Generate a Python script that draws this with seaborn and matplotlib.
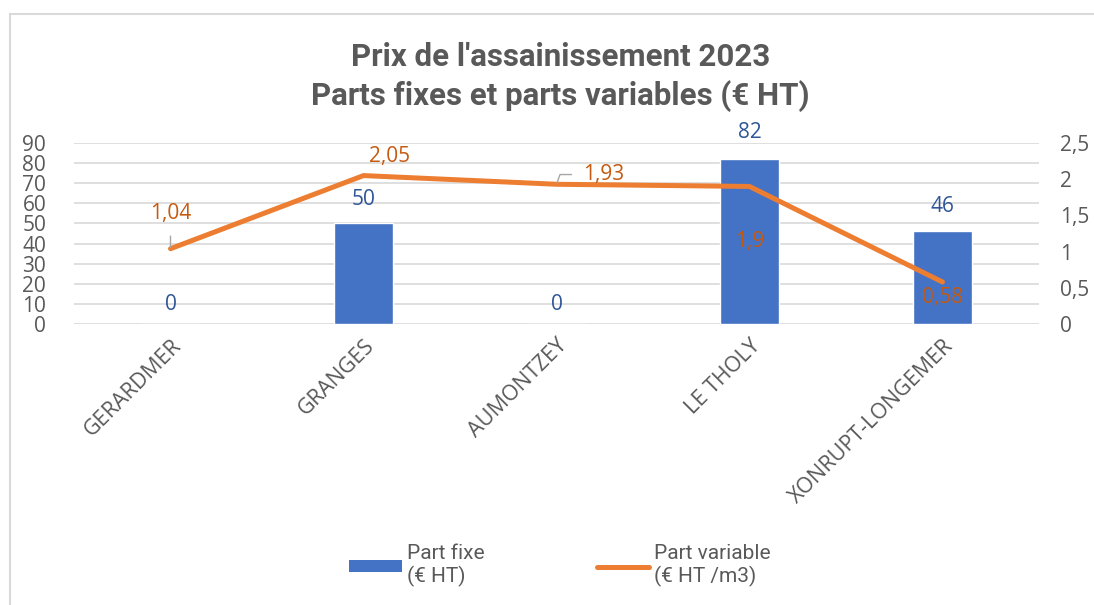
import matplotlib
matplotlib.use("Agg")
import matplotlib.pyplot as plt
import seaborn as sns
import pandas as pd
import numpy as np
from matplotlib.lines import Line2D
from matplotlib.patches import Patch

communes = ["GERARDMER", "GRANGES", "AUMONTZEY", "LE THOLY", "XONRUPT-LONGEMER"]
part_fixe = [0, 50, 0, 82, 46]
part_variable = [1.04, 2.05, 1.93, 1.9, 0.58]
fixe_labels = ["0", "50", "0", "82", "46"]
variable_labels = ["1,04", "2,05", "1,93", "1,9", "0,58"]
left_ticks = list(range(0, 100, 10))
right_ticks = [0, 0.5, 1, 1.5, 2, 2.5]
right_ticklabels = ["0", "0,5", "1", "1,5", "2", "2,5"]

BLUE = "#4472C4"
ORANGE = "#ED7D31"
BLUE_TXT = "#2F5597"
ORANGE_TXT = "#C55A11"
GREY = "#595959"

sns.set_style("white")
plt.rcParams["font.family"] = ["Open Sans", "DejaVu Sans"]

df = pd.DataFrame({"Commune": communes, "Part fixe": part_fixe,
                   "Part variable": part_variable, "pos": np.arange(len(communes))})

fig = plt.figure(figsize=(10.94, 6.05), dpi=100)
ax = fig.add_axes([74 / 1094, 1 - 324 / 605, (1039 - 74) / 1094, (324 - 143) / 605])

sns.barplot(data=df, x="Commune", y="Part fixe", color=BLUE, width=0.31,
            saturation=1, ax=ax)
ax.set_ylim(0, 90)
ax.set_yticks(left_ticks)
ax.set_xlim(-0.5, len(communes) - 0.5)
ax.grid(axis="y", color="#D9D9D9", lw=1.2)
ax.set_axisbelow(True)
for s in ax.spines.values():
    s.set_visible(False)
ax.set_xlabel("")
ax.set_ylabel("")
ax.tick_params(axis="y", labelsize=15, labelcolor=GREY, pad=20, length=0)
ax.tick_params(axis="x", labelsize=15.5, labelcolor=GREY, pad=8, length=0)
ax.set_xticks(range(len(communes)))
ax.set_xticklabels(communes, rotation=45, ha="right", rotation_mode="anchor")

# bar labels (offset in points above bar top)
bar_offsets = [14, 17, 14, 19, 18]
for i, (v, lab) in enumerate(zip(part_fixe, fixe_labels)):
    ax.annotate(lab, (i, v), xytext=(0, bar_offsets[i]), textcoords="offset points",
                ha="center", va="center", fontsize=15, color=BLUE_TXT)

ax2 = ax.twinx()
sns.lineplot(data=df, x="pos", y="Part variable", color=ORANGE, lw=3.6,
             solid_capstyle="round", ax=ax2)
ax2.set_ylim(0, 2.5)
ax2.set_yticks(right_ticks)
ax2.set_yticklabels(right_ticklabels)
ax2.set_xlim(-0.5, len(communes) - 0.5)
ax2.set_ylabel("")
ax2.set_xlabel("")
for s in ax2.spines.values():
    s.set_visible(False)
ax2.tick_params(axis="y", labelsize=15, labelcolor=GREY, pad=15, length=0)

var_offsets = [(0, 25), (19, 14), (34, 7), (0, -40), (0, -11)]
leaders = [True, False, True, False, False]
for i, (v, lab) in enumerate(zip(part_variable, variable_labels)):
    arrow = None
    if leaders[i]:
        arrow = dict(arrowstyle="-", color="#A6A6A6", lw=1, shrinkA=6, shrinkB=1,
                     connectionstyle="angle,angleA=0,angleB=70,rad=0" if i == 2 else "arc3")
    ax2.annotate(lab, (i, v), xytext=var_offsets[i], textcoords="offset points",
                 ha="center", va="center", fontsize=15, color=ORANGE_TXT,
                 arrowprops=arrow)

fig.suptitle("Prix de l'assainissement 2023\nParts fixes et parts variables (€ HT)",
             x=0.512, y=0.93, fontsize=22.5, fontweight="bold", color=GREY,
             family=["Roboto", "DejaVu Sans"], linespacing=1.3)

handles = [Patch(facecolor=BLUE, edgecolor="none"),
           Line2D([0], [0], color=ORANGE, lw=3.6, solid_capstyle="round")]
leg = fig.legend(handles, ["Part fixe\n(€ HT)", "Part variable\n(€ HT /m3)"],
                 loc="center", bbox_to_anchor=(0.512, 0.065), ncol=2, frameon=False,
                 prop={"family": ["Roboto", "DejaVu Sans"], "size": 15},
                 handlelength=2.5, handleheight=0.5, handletextpad=0.25,
                 columnspacing=5.4, labelspacing=0.2)
for t in leg.get_texts():
    t.set_color(GREY)

# chart area border
fig.add_artist(Line2D([10 / 1094, 10 / 1094], [0, 1 - 14 / 605], color="#D9D9D9", lw=1.5))
fig.add_artist(Line2D([10 / 1094, 1], [1 - 14 / 605, 1 - 14 / 605], color="#D9D9D9", lw=1.5))

plt.savefig("out.png", dpi=100)
